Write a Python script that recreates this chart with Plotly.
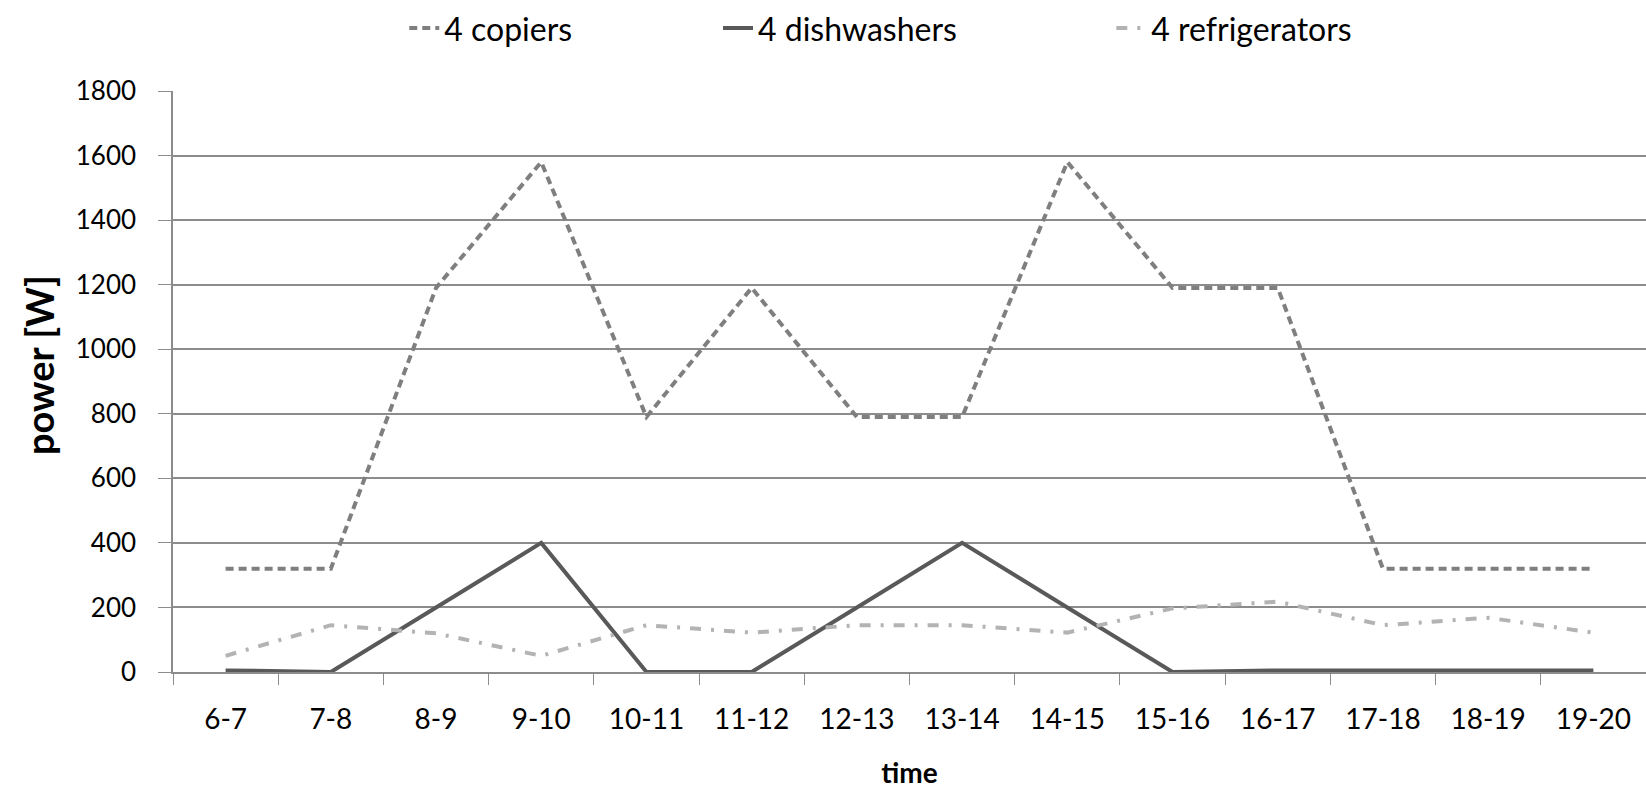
import plotly.graph_objects as go

categories = ["6-7", "7-8", "8-9", "9-10", "10-11", "11-12", "12-13", "13-14",
              "14-15", "15-16", "16-17", "17-18", "18-19", "19-20"]
copiers = [320, 320, 1190, 1580, 790, 1190, 790, 790, 1580, 1190, 1190, 320, 320, 320]
dishwashers = [5, 0, 200, 400, 0, 0, 200, 400, 200, 0, 5, 5, 5, 5]
refrigerators = [50, 145, 120, 50, 145, 122, 145, 145, 122, 197, 218, 145, 168, 122]
y_ticks = [0, 200, 400, 600, 800, 1000, 1200, 1400, 1600, 1800]

FONT = "Lato"
LEG_FONT = dict(size=32, family=FONT, color="#000000")

fig = go.Figure()
fig.add_trace(go.Scatter(x=categories, y=copiers, name="4 copiers", mode="lines", legend="legend",
                         line=dict(color="#7f7f7f", width=4, dash="8px,5px")))
fig.add_trace(go.Scatter(x=categories, y=dishwashers, name="4 dishwashers", mode="lines", legend="legend2",
                         line=dict(color="#595959", width=4)))
fig.add_trace(go.Scatter(x=categories, y=refrigerators, name="4 refrigerators", mode="lines", legend="legend3",
                         line=dict(color="#b3b3b3", width=4, dash="11px,10px,3px,10px")))

def leg(x):
    return dict(orientation="h", x=x, xanchor="left", y=1.108, yanchor="middle",
                font=LEG_FONT, bgcolor="rgba(0,0,0,0)", borderwidth=0)

fig.update_layout(
    width=1646, height=789,
    margin=dict(l=173, r=0, t=91, b=117),
    paper_bgcolor="white", plot_bgcolor="white",
    font=dict(family=FONT, size=24, color="#000000"),
    showlegend=True,
    legend=leg(0.157),
    legend2=leg(0.370),
    legend3=leg(0.637),
    xaxis=dict(
        type="category", range=[-0.5, 13.5], showgrid=False,
        showline=True, linecolor="#8c8c8c", linewidth=1.5,
        ticks="outside", tickson="boundaries", ticklen=11, tickcolor="#8c8c8c",
        tickfont=dict(size=28), ticklabelstandoff=22,
        title=dict(text="<b>time</b>", font=dict(size=28), standoff=30),
    ),
    yaxis=dict(
        range=[0, 1800], tickvals=y_ticks, showgrid=True, gridcolor="#8c8c8c", gridwidth=1.5,
        showline=True, linecolor="#8c8c8c", linewidth=1.5, zeroline=False,
        ticks="outside", ticklen=13, tickcolor="#8c8c8c",
        tickfont=dict(size=26), ticklabelstandoff=17,
    ),
    annotations=[dict(
        text="<b>power [W]</b>", textangle=-90, showarrow=False,
        xref="paper", yref="paper", x=(39 - 173) / 1473, y=(672 - 365) / 581,
        xanchor="center", yanchor="middle", font=dict(size=38, family=FONT, color="#000000"),
    )],
)

fig.write_html("out.html")
